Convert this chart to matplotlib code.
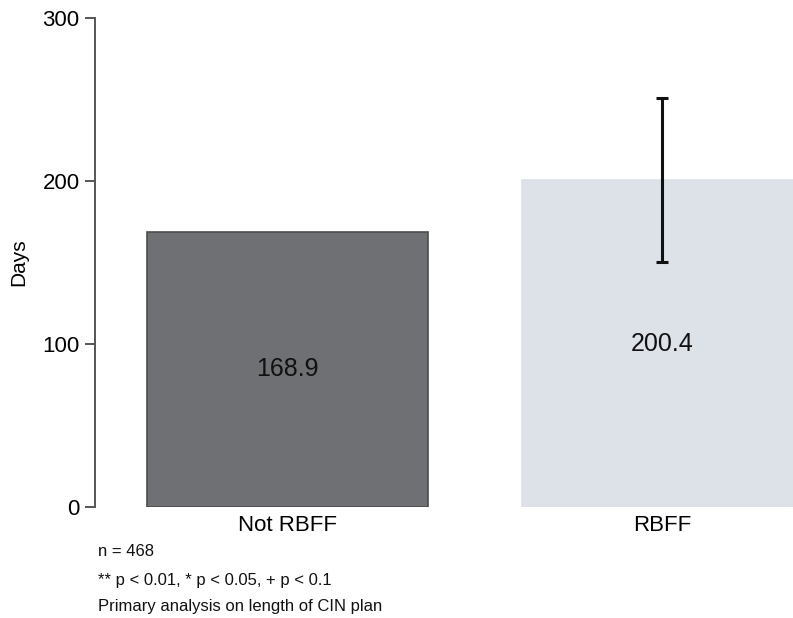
import matplotlib
matplotlib.use("Agg")
import matplotlib.pyplot as plt

categories = ["Not RBFF", "RBFF"]
values = [168.9, 200.4]
err_low = [None, 150.3]
err_high = [None, 250.8]
bar_colors = ["#6f7073", "#dde2e9"]
edge_colors = ["#4d4d4d", "#dde2e9"]
notes = ["n = 468", "** p < 0.01, * p < 0.05, + p < 0.1", "Primary analysis on length of CIN plan"]

plt.rcParams['font.family'] = ['Liberation Sans', 'DejaVu Sans']

fig = plt.figure(figsize=(7.93, 6.18), dpi=100)
ax = fig.add_axes([95/793, 1-507/618, 1-95/793, (507-18)/618])

x = list(range(len(categories)))
ax.bar(x, values, width=0.75, color=bar_colors, edgecolor=edge_colors, linewidth=1.2, zorder=2)
for i, v in enumerate(values):
    ax.text(i, v/2, f"{v:.1f}", ha="center", va="center", fontsize=18, color="#111111", zorder=4)
    if err_low[i] is not None:
        ax.errorbar(i, v, yerr=[[v-err_low[i]], [err_high[i]-v]], fmt="none", ecolor="#111111",
                    elinewidth=2.2, capsize=4.5, capthick=2.2, zorder=3)

ax.set_xlim(-0.514, 1.35)
ax.set_ylim(0, 300)
ax.set_yticks([0, 100, 200, 300])
ax.set_xticks(x)
ax.set_xticklabels(categories, fontsize=16)
ax.tick_params(axis="y", labelsize=16, length=7, width=1.4, color="#555555", pad=4)
ax.tick_params(axis="x", length=0, pad=6)
for s in ["top", "right", "bottom"]:
    ax.spines[s].set_visible(False)
ax.spines["left"].set_color("#555555")
ax.spines["left"].set_linewidth(1.4)
ax.set_ylabel("Days", fontsize=15, labelpad=10)

ys = [552, 580, 607]
for t, y in zip(notes, ys):
    fig.text(98/793, 1-y/618, t, fontsize=12, va="center", ha="left", color="#111111")

fig.savefig("out.png", dpi=100)
